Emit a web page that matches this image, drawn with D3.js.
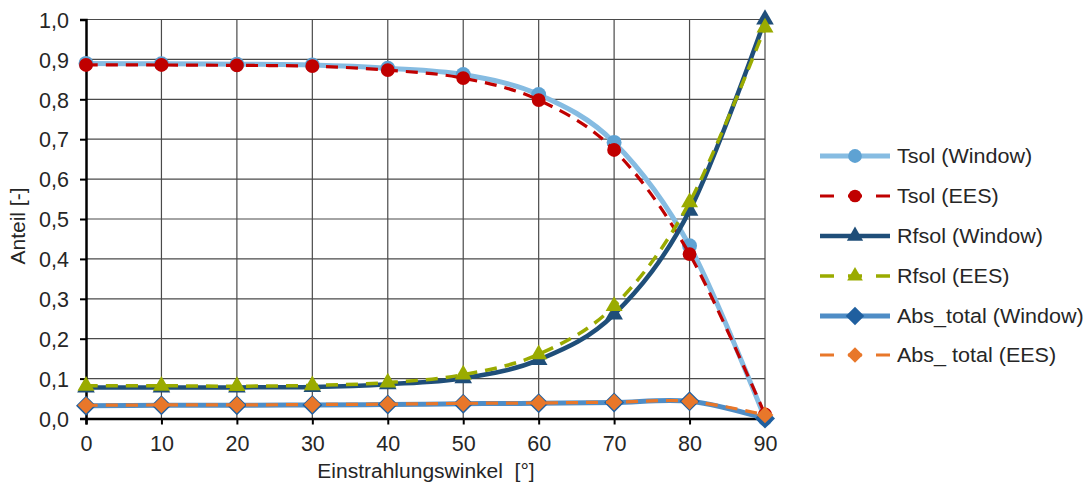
<!DOCTYPE html>
<html><head><meta charset="utf-8">
<script src="https://cdn.jsdelivr.net/npm/d3@7"></script>
<style>
body{margin:0;background:#fff}
text{font-family:"Liberation Sans",Arial,sans-serif;fill:#262626}
</style>
</head><body>
<svg id="chart" width="1083" height="488"></svg>
<script>
// ---- data ----
const angles = [0,10,20,30,40,50,60,70,80,90];
const tsolWindow   = [0.890,0.889,0.888,0.886,0.878,0.862,0.812,0.692,0.433,0.000];
const tsolEES      = [0.886,0.886,0.885,0.883,0.873,0.853,0.798,0.673,0.412,0.010];
const rfsolWindow  = [0.078,0.078,0.078,0.079,0.086,0.101,0.147,0.261,0.521,1.000];
const rfsolEES     = [0.082,0.082,0.081,0.083,0.090,0.110,0.161,0.282,0.542,0.980];
const absWindow    = [0.032,0.033,0.033,0.034,0.035,0.037,0.038,0.040,0.043,0.000];
const absEES       = [0.033,0.034,0.034,0.035,0.036,0.038,0.039,0.041,0.043,0.009];
const seriesNames  = ["Tsol (Window)","Tsol (EES)","Rfsol (Window)","Rfsol (EES)","Abs_total (Window)","Abs_ total (EES)"];
const yTicks = [0,0.1,0.2,0.3,0.4,0.5,0.6,0.7,0.8,0.9,1.0];
const xTicks = [0,10,20,30,40,50,60,70,80,90];
const xTitle = "Einstrahlungswinkel\u00A0\u00A0[°]";
const yTitle = "Anteil [-]";

const seriesValues = [tsolWindow, tsolEES, rfsolWindow, rfsolEES, absWindow, absEES];

// ---- styles ----
const diamond = {draw(ctx, size){const r=Math.sqrt(size/2);ctx.moveTo(0,-r);ctx.lineTo(r,0);ctx.lineTo(0,r);ctx.lineTo(-r,0);ctx.closePath();}};
const styles = [
  {line:"#86bce2", width:5,   dash:null,   sym:d3.symbolCircle,   size:175, fill:"#5ea2d3"},
  {line:"#c00000", width:3.2, dash:"12,8", sym:d3.symbolCircle,   size:150, fill:"#c00000"},
  {line:"#1f4e79", width:4.5, dash:null,   sym:d3.symbolTriangle, size:135, fill:"#1f4e79"},
  {line:"#9aab00", width:3.5, dash:"12,8", sym:d3.symbolTriangle, size:125, fill:"#9aab00"},
  {line:"#4f8dc6", width:5,   dash:null,   sym:diamond,           size:200, fill:"#1f5f9f"},
  {line:"#e8772a", width:3.2, dash:"12,8", sym:diamond,           size:140, fill:"#e8772a"}
];

const svg = d3.select("#chart");
const L=86, R=765, T=19.5, B=418.5;
const x = d3.scaleLinear().domain([0,90]).range([L,R]);
const y = d3.scaleLinear().domain([0,1]).range([B,T]);

// grid
const g = svg.append("g");
g.selectAll("line.vg").data(xTicks.slice(1)).join("line")
  .attr("x1",d=>x(d)).attr("x2",d=>x(d)).attr("y1",T).attr("y2",B)
  .attr("stroke","#4a4a4a").attr("stroke-width",1.2);
g.selectAll("line.hg").data(yTicks.slice(1)).join("line")
  .attr("x1",L).attr("x2",R).attr("y1",d=>y(d)).attr("y2",d=>y(d))
  .attr("stroke","#4a4a4a").attr("stroke-width",1.2);

// axes
const fmt = d=>d3.format(".1f")(d).replace(".",",");
const yAxis = svg.append("g").attr("transform",`translate(${L},0)`)
  .call(d3.axisLeft(y).tickValues(yTicks).tickFormat(fmt).tickSize(6).tickPadding(11));
const xAxis = svg.append("g").attr("transform",`translate(0,${B})`)
  .call(d3.axisBottom(x).tickValues(xTicks).tickFormat(d3.format("d")).tickSize(6).tickPadding(11));
[yAxis,xAxis].forEach(a=>{
  a.select(".domain").attr("stroke","#000").attr("stroke-width",2.5);
  a.selectAll(".tick line").attr("stroke","#000").attr("stroke-width",2);
  a.selectAll(".tick text").attr("font-size",21.5).attr("fill","#262626").attr("font-family",null);
});
yAxis.selectAll(".tick text").attr("dy","0.36em");

// titles
svg.append("text").attr("class","stretch").attr("x",426).attr("y",478).attr("text-anchor","middle")
  .attr("font-size",20).text(xTitle);
svg.append("text").attr("class","stretch").attr("transform","translate(25,226) rotate(-90)").attr("text-anchor","middle")
  .attr("font-size",20).text(yTitle);

// series
const line = d3.line().x((d,i)=>x(angles[i])).y(d=>y(d)).curve(d3.curveCardinal.tension(0));
const plot = svg.append("g");
seriesValues.forEach((vals,k)=>{
  const s = styles[k];
  plot.append("path").datum(vals).attr("d",line).attr("fill","none")
    .attr("stroke",s.line).attr("stroke-width",s.width)
    .attr("stroke-dasharray",s.dash).attr("stroke-linejoin","round");
  plot.selectAll(null).data(vals).join("path")
    .attr("transform",(d,i)=>`translate(${x(angles[i])},${y(d)})`)
    .attr("d",d3.symbol().type(s.sym).size(s.size))
    .attr("fill",s.fill);
});

// legend
const lg = svg.append("g");
const rowsY = [156,196,236,276,316,355];
seriesNames.forEach((name,k)=>{
  const s = styles[k], yy = rowsY[k];
  lg.append("line").attr("x1",820).attr("x2",890).attr("y1",yy).attr("y2",yy)
    .attr("stroke",s.line).attr("stroke-width",s.width)
    .attr("stroke-dasharray",s.dash ? "14,14" : null);
  lg.append("path").attr("transform",`translate(855,${yy})`)
    .attr("d",d3.symbol().type(s.sym).size(s.size*0.85)).attr("fill",s.fill);
  lg.append("text").attr("class","stretch").attr("x",897).attr("y",yy).attr("dy","0.36em")
    .attr("font-size",20.5).text(name);
});

svg.selectAll("text.stretch").each(function(){
  const w = this.getComputedTextLength();
  d3.select(this).attr("textLength", w*1.05).attr("lengthAdjust","spacingAndGlyphs");
});
</script>
</body></html>
